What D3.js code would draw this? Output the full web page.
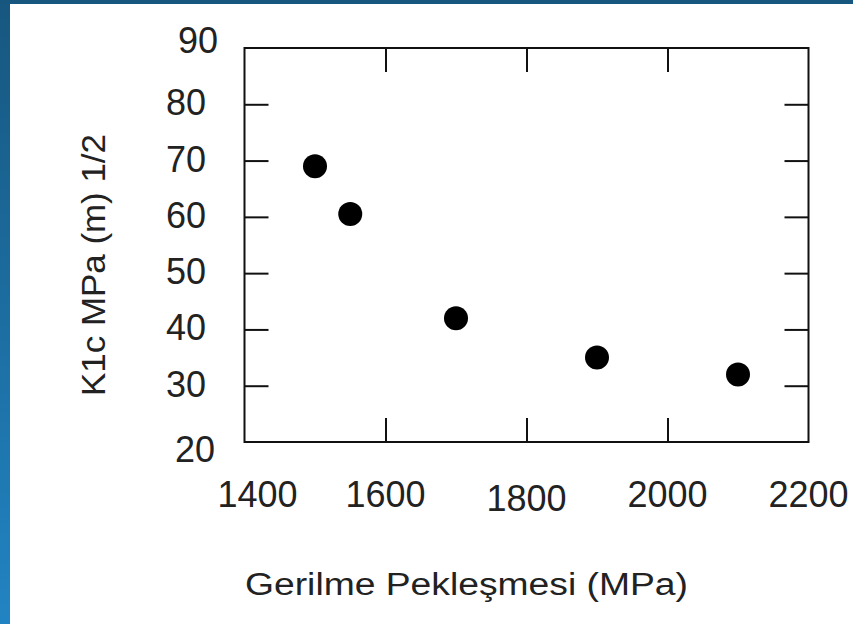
<!DOCTYPE html>
<html>
<head>
  <meta charset="utf-8">
  <script src="https://d3js.org/d3.v7.min.js"></script>
  <style>
    body { margin: 0; background: #1a6496; }
    svg { display: block; }
    text { font-family: "Liberation Sans", Arial, sans-serif; fill: #222; }
  </style>
</head>
<body>
  <svg width="853" height="624"></svg>

  <script>
    // data
    const stress = [1500, 1550, 1700, 1900, 2100];
    const k1c = [69, 60.5, 42, 35, 32];

    const xTicks = [1400, 1600, 1800, 2000, 2200];
    const yTicks = [20, 30, 40, 50, 60, 70, 80, 90];

    const xTitle = "Gerilme Pekleşmesi (MPa)";
    const yTitle = "K1c MPa (m) 1/2";

    const svg = d3.select("svg");

    // blue slide background + white panel
    const defs = svg.append("defs");
    const grad = defs.append("linearGradient")
      .attr("id", "bg").attr("x1", 0).attr("y1", 0).attr("x2", 0).attr("y2", 1);
    grad.append("stop").attr("offset", "0%").attr("stop-color", "#17577f");
    grad.append("stop").attr("offset", "100%").attr("stop-color", "#2184c2");

    svg.append("rect").attr("width", 853).attr("height", 624).attr("fill", "url(#bg)");
    svg.append("rect").attr("x", 10).attr("y", 4).attr("width", 843).attr("height", 620)
      .attr("fill", "#fff");

    const x = d3.scaleLinear().domain([1400, 2200]).range([244.5, 808.5]);
    const y = d3.scaleLinear().domain([20, 90]).range([442, 48]);

    const tickLen = 24;
    const innerX = xTicks.slice(1, -1);
    const innerY = yTicks.slice(1, -1);

    const styleAxis = g => {
      g.select(".domain").remove();
      g.selectAll("line").attr("stroke", "#111").attr("stroke-width", 2);
    };

    // ticks on all four sides, pointing inwards
    svg.append("g").attr("transform", `translate(0,${y(20)})`)
      .call(d3.axisBottom(x).tickValues(innerX).tickSize(-tickLen).tickFormat(""))
      .call(styleAxis);
    svg.append("g").attr("transform", `translate(0,${y(90)})`)
      .call(d3.axisTop(x).tickValues(innerX).tickSize(-tickLen).tickFormat(""))
      .call(styleAxis);
    svg.append("g").attr("transform", `translate(${x(1400)},0)`)
      .call(d3.axisLeft(y).tickValues(innerY).tickSize(-tickLen).tickFormat(""))
      .call(styleAxis);
    svg.append("g").attr("transform", `translate(${x(2200)},0)`)
      .call(d3.axisRight(y).tickValues(innerY).tickSize(-tickLen).tickFormat(""))
      .call(styleAxis);

    // frame
    svg.append("rect")
      .attr("x", x(1400)).attr("y", y(90))
      .attr("width", x(2200) - x(1400)).attr("height", y(20) - y(90))
      .attr("fill", "none").attr("stroke", "#111").attr("stroke-width", 2);

    // tick labels (the first one sits a bit to the right in the original)
    svg.append("g").selectAll("text")
      .data(xTicks)
      .join("text")
      .attr("x", d => x(d) + (d === 1400 ? 13 : 0))
      .attr("y", d => d === 1800 ? 511 : 507)
      .attr("text-anchor", "middle")
      .style("font-size", "36px")
      .text(d => d);

    svg.append("g").selectAll("text")
      .data(yTicks)
      .join("text")
      .attr("x", d => d === 90 ? 218 : d === 20 ? 215 : 206)
      .attr("y", d => y(d) + (d === 90 ? 5 : d === 20 ? 20 : 11))
      .attr("text-anchor", "end")
      .style("font-size", "36px")
      .text(d => d);

    // axis titles
    svg.append("text")
      .attr("x", 466.5).attr("y", 595)
      .attr("text-anchor", "middle")
      .attr("textLength", 443).attr("lengthAdjust", "spacingAndGlyphs")
      .style("font-size", "31px")
      .text(xTitle);

    svg.append("text")
      .attr("transform", "translate(105,265) rotate(-90)")
      .attr("text-anchor", "middle")
      .attr("textLength", 262).attr("lengthAdjust", "spacingAndGlyphs")
      .style("font-size", "34px")
      .text(yTitle);

    // points
    svg.append("g").selectAll("circle")
      .data(stress.map((s, i) => ({ s: s, k: k1c[i] })))
      .join("circle")
      .attr("cx", d => x(d.s))
      .attr("cy", d => y(d.k))
      .attr("r", 12)
      .attr("fill", "#000");
  </script>
</body>
</html>
